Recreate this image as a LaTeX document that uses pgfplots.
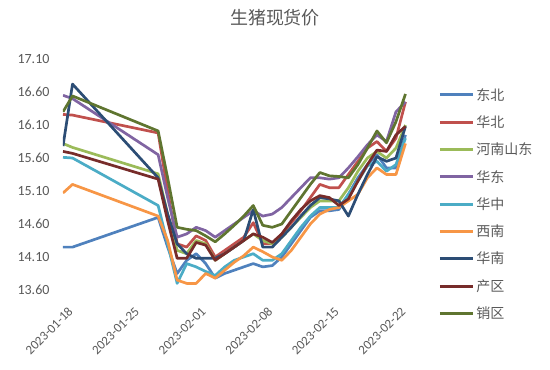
\documentclass[border=0pt]{standalone}
\usepackage{fontspec}
\setmainfont{Carlito}
\newfontfamily\cjk{Noto Sans CJK SC}
\usepackage{pgfplots}
\pgfplotsset{compat=1.18}
\usepackage{pgfplotstable}
\definecolor{cDB}{HTML}{4F81BD}
\definecolor{cHB}{HTML}{C0504D}
\definecolor{cHNSD}{HTML}{9BBB59}
\definecolor{cHD}{HTML}{8064A2}
\definecolor{cHZ}{HTML}{4BACC6}
\definecolor{cXN}{HTML}{F79646}
\definecolor{cHN}{HTML}{2C4D75}
\definecolor{cCQ}{HTML}{772C2A}
\definecolor{cXQ}{HTML}{5F7530}
\definecolor{txt}{HTML}{595959}
\pgfplotstableread{
d   DB    HB    HNSD  HD    HZ    XN    HN    CQ    XQ
0   14.25 16.26 15.82 16.55 15.61 15.07 15.78 15.70 16.30
1   14.25 16.25 15.76 16.50 15.60 15.20 16.72 15.67 16.54
10  14.70 15.98 15.36 15.65 14.88 14.72 15.30 15.28 16.01
11  14.25 15.10 14.75 15.00 14.30 14.35 14.75 14.65 15.30
12  13.85 14.30 14.20 14.40 13.70 13.75 14.30 14.08 14.55
13  14.05 14.25 14.15 14.45 14.00 13.70 14.15 14.08 14.52
14  14.15 14.42 14.35 14.55 13.95 13.70 14.08 14.32 14.50
15  14.00 14.35 14.30 14.50 13.88 13.85 14.08 14.28 14.42
16  13.78 14.10 14.05 14.40 13.82 13.78 14.08 14.05 14.33
17  13.85 14.20 14.15 14.50 13.95 13.90 14.15 14.15 14.45
18  13.90 14.30 14.25 14.60 14.05 14.02 14.25 14.25 14.58
19  13.95 14.40 14.35 14.70 14.10 14.12 14.35 14.35 14.72
20  14.00 14.62 14.45 14.80 14.15 14.25 14.82 14.45 14.88
21  13.95 14.30 14.35 14.72 14.05 14.18 14.25 14.40 14.58
22  13.97 14.30 14.30 14.75 14.05 14.10 14.25 14.32 14.55
23  14.10 14.45 14.40 14.85 14.15 14.05 14.40 14.45 14.60
24  14.30 14.62 14.55 15.00 14.35 14.20 14.55 14.65 14.80
25  14.50 14.80 14.70 15.15 14.55 14.40 14.72 14.82 15.00
26  14.70 15.00 14.85 15.30 14.72 14.60 14.88 14.95 15.20
27  14.80 15.20 14.95 15.30 14.85 14.75 15.00 15.03 15.38
28  14.80 15.15 14.95 15.28 14.85 14.82 14.98 15.00 15.33
29  14.82 15.15 14.95 15.30 14.85 14.85 14.95 14.88 15.32
30  15.05 15.35 15.15 15.45 15.05 14.95 14.72 14.98 15.30
31  15.30 15.55 15.40 15.62 15.25 15.05 15.05 15.25 15.50
32  15.50 15.75 15.60 15.80 15.48 15.30 15.35 15.50 15.75
33  15.65 15.85 15.70 15.95 15.55 15.45 15.62 15.72 16.01
34  15.45 15.70 15.60 15.85 15.40 15.35 15.55 15.70 15.83
35  15.45 15.90 15.75 16.30 15.50 15.35 15.60 15.95 16.15
36  15.95 16.45 16.10 16.45 15.90 15.82 16.08 16.08 16.57
}\data
\begin{document}
\begin{tikzpicture}
\path[use as bounding box] (-63pt,-80pt) rectangle (487pt,290pt);
\begin{axis}[
  at={(0pt,0pt)}, anchor=south west,
  scale only axis, width=352pt, height=231pt,
  xmin=0, xmax=37, ymin=13.6, ymax=17.1,
  axis line style={draw=none}, tick style={draw=none},
  ytick={13.6,14.1,14.6,15.1,15.6,16.1,16.6,17.1},
  yticklabel style={/pgf/number format/fixed, /pgf/number format/precision=2, /pgf/number format/fixed zerofill, /pgf/number format/assume math mode=true, font=\fontsize{14}{16}\selectfont, text=txt, anchor=east, xshift=-10pt},
  xtick={0,7,14,21,28,35},
  xticklabels={2023-01-18,2023-01-25,2023-02-01,2023-02-08,2023-02-15,2023-02-22},
  xticklabel style={rotate=45, anchor=east, font=\fontsize{13}{15}\selectfont, text=txt, yshift=-19pt, xshift=-5pt},
  legend style={font=\cjk\fontsize{14}{16}\selectfont, text=txt, draw=none, fill=none, at={(axis description cs:1.066,0.883)}, anchor=north west, row sep=10pt, inner sep=0pt},
  legend cell align=left,
  legend image code/.code={\draw[#1, line width=3pt] (0pt,0pt) -- (33pt,0pt);},
  every axis plot/.append style={line width=2.7pt, line join=round},
]
\addplot[cDB] table[x=d, y=DB] {\data};
\addplot[cHB] table[x=d, y=HB] {\data};
\addplot[cHNSD] table[x=d, y=HNSD] {\data};
\addplot[cHD] table[x=d, y=HD] {\data};
\addplot[cHZ] table[x=d, y=HZ] {\data};
\addplot[cXN] table[x=d, y=XN] {\data};
\addplot[cHN] table[x=d, y=HN] {\data};
\addplot[cCQ] table[x=d, y=CQ] {\data};
\addplot[cXQ] table[x=d, y=XQ] {\data};
\legend{东北,华北,河南山东,华东,华中,西南,华南,产区,销区}
\end{axis}
\node[font=\cjk\fontsize{18}{20}\selectfont, text=txt] at (212pt,272pt) {生猪现货价};
\end{tikzpicture}
\end{document}
